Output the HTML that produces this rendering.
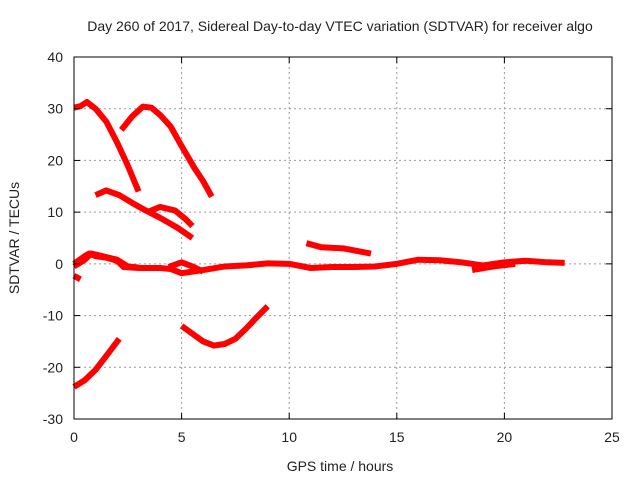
<!DOCTYPE html>
<html><head><meta charset="utf-8"><style>
body{margin:0;background:#fff}
text{font-family:"Liberation Sans",sans-serif;font-size:14px;fill:#222}
</style></head><body>
<svg id="chart" width="640" height="480" xmlns="http://www.w3.org/2000/svg">
<rect width="640" height="480" fill="#fff"/>
<text x="340" y="31" text-anchor="middle">Day 260 of 2017, Sidereal Day-to-day VTEC variation (SDTVAR) for receiver algo</text>
<text x="340" y="471" text-anchor="middle">GPS time / hours</text>
<text transform="translate(19,238) rotate(-90)" text-anchor="middle">SDTVAR / TECUs</text>
<g id="grid"></g><g id="series"></g>
<rect x="74" y="57" width="538" height="362" fill="none" stroke="#000" stroke-width="1"/>
<g id="ticks"></g>
</svg>
<script>
const xTicks=[0,5,10,15,20,25];
const yTicks=[-30,-20,-10,0,10,20,30,40];
const s1=[[0,30.2],[0.3,30.5],[0.6,31.3],[1,30],[1.5,27.5],[2,23.5],[2.5,19],[3,14]];
const s2=[[2.2,25.9],[2.7,28.5],[3.2,30.4],[3.6,30.2],[4,28.8],[4.5,26.5],[4.9,23.5],[5.6,18.5],[6,16],[6.4,13]];
const s3=[[1,13.3],[1.5,14.2],[2.1,13.3],[2.7,11.8],[3.3,10.4],[4,8.9],[4.8,7],[5.5,5]];
const s4=[[3.4,10],[4,11],[4.7,10.3],[5.2,8.6],[5.5,7.3]];
const s5=[[0,0],[0.5,1.5],[0.7,2],[1,1.5],[1.5,1.2],[2,0.6],[2.3,-0.6],[3,-0.8],[4,-0.8],[4.5,-1],[5,-1.8],[5.5,-1.5],[6,-1.2],[7,-0.5],[8,-0.3],[9,0.1],[10,0],[11,-0.8],[12,-0.6],[13,-0.6],[14,-0.5],[15,0],[16,0.8],[17,0.7],[18,0.3],[19,-0.3],[20,0.3],[21,0.6],[22,0.3],[22.8,0.2]];
const s6=[[0,-0.5],[0.5,0.8],[0.8,2],[1.3,1.5],[2,0.8],[2.5,-0.5],[3,-0.7]];
const s7=[[4.4,-0.6],[5,0.3],[5.5,-0.5],[6,-1.5]];
const s8=[[0,-2.3],[0.3,-3]];
const s9=[[10.8,4],[11.5,3.2],[12.5,3],[13.8,2]];
const s10=[[18.5,-1.2],[19.5,-0.5],[20.5,0]];
const s11=[[5,-12],[5.5,-13.5],[6,-15],[6.5,-15.8],[7,-15.5],[7.5,-14.5],[8,-12.5],[8.5,-10.3],[9,-8.2]];
const s12=[[0,-23.8],[0.5,-22.5],[1,-20.5],[1.5,-17.8],[2.1,-14.5]];
const seriesList=[s1,s2,s3,s4,s5,s6,s7,s8,s9,s10,s11,s12];
const X=v=>74+v*538/25, Y=v=>57+(40-v)*362/70;
const NS="http://www.w3.org/2000/svg";
const grid=document.getElementById('grid'),ticks=document.getElementById('ticks'),ser=document.getElementById('series');
function mk(tag,a,p){const e=document.createElementNS(NS,tag);for(const k in a)e.setAttribute(k,a[k]);p.appendChild(e);return e;}
xTicks.forEach(t=>{const x=X(t);
 if(t>0&&t<25){const l=mk('line',{x1:x,x2:x,y1:57,y2:419,stroke:'#999','stroke-dasharray':'2,3'},grid);
 
 }
 mk('line',{x1:x,x2:x,y1:419,y2:413,stroke:'#000'},ticks);mk('line',{x1:x,x2:x,y1:57,y2:63,stroke:'#000'},ticks);
 const tx=mk('text',{x:x,y:442,'text-anchor':'middle'},ticks);tx.textContent=t;
 
 });
yTicks.forEach(t=>{const y=Y(t);
 if(t>-30&&t<40){const l=mk('line',{x1:74,x2:612,y1:y,y2:y,stroke:'#999','stroke-dasharray':'2,3'},grid);
 
 }
 mk('line',{x1:74,x2:80,y1:y,y2:y,stroke:'#000'},ticks);mk('line',{x1:612,x2:606,y1:y,y2:y,stroke:'#000'},ticks);
 const tx=mk('text',{x:63,y:y+5,'text-anchor':'end'},ticks);tx.textContent=t;
 
 });
seriesList.forEach(s=>{const p=mk('polyline',{points:s.map(d=>X(d[0])+','+Y(d[1])).join(' '),fill:'none',stroke:'#f00','stroke-width':6,'stroke-linejoin':'round'},ser);
 
 });
</script>
</body></html>
